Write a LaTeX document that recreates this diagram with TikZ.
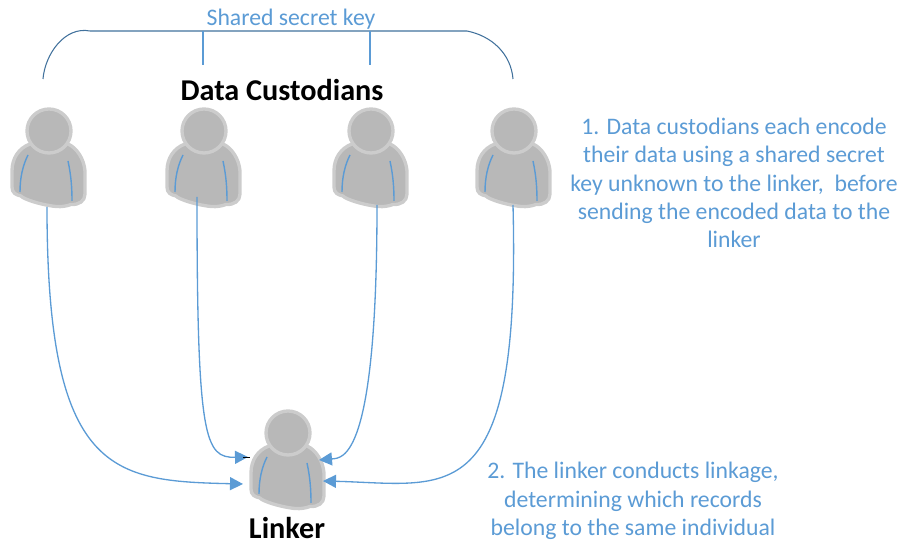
\documentclass[tikz,border=0pt]{standalone}
\usepackage{fontspec}
\setmainfont{Carlito}
\usetikzlibrary{arrows.meta}
\definecolor{skyline}{HTML}{5B9BD5}
\definecolor{darkline}{HTML}{41719C}
\definecolor{personfill}{HTML}{B8B8B8}
\definecolor{personedge}{HTML}{CCCCCC}
\tikzset{
  x=0.02cm,y=-0.02cm,
  link/.style={draw=skyline,line width=0.75pt,-{Stealth[length=7.4pt,width=7.4pt,inset=0pt]}},
  tick/.style={draw=skyline,line width=0.7pt},
  bracket/.style={draw=darkline,line width=0.6pt},
  note/.style={text=skyline,font=\fontsize{13.5}{16.15}\selectfont,align=center,inner sep=0pt},
  title/.style={text=black,font=\fontsize{17.2}{20}\selectfont\bfseries,inner sep=0pt},
  personbody/.style={fill=personfill,draw=personedge,line width=1.9pt,line join=round},
  personarm/.style={draw=skyline,line width=0.8pt},
  person/.pic={
    \path[personbody] (-19,13) .. controls (-30,17) and (-37,27) .. (-37,40)
      -- (-37,56) .. controls (-37,62) and (-33,64) .. (-28,65)
      .. controls (-26,68) and (-8,74) .. (7,75.5)
      .. controls (13,76) and (18,75) .. (22,73.5)
      .. controls (30,74) and (36,70) .. (36,63)
      -- (36,40) .. controls (35,28) and (28,17) .. (19,13) -- cycle;
    \path[personbody] (0,0) circle (22);
    \path[personarm] (-21,24) .. controls (-26,34) and (-29,46) .. (-29,61);
    \path[personarm] (19,30) .. controls (22,44) and (23,56) .. (23,70);
  }
}
\begin{document}
\begin{tikzpicture}
\useasboundingbox (0,0) rectangle (900,543);
\pic at (49,131) {person};
\pic at (204,131) {person};
\pic at (371,131) {person};
\pic at (514,131) {person};
\pic at (288,433) {person};

\coordinate (c1) at (47,207);
\coordinate (c2) at (197,197);
\coordinate (c3) at (377,205);
\coordinate (c4) at (513,205);
\coordinate (l1) at (243,484);
\coordinate (l2) at (248,457);
\coordinate (l3) at (319,460);
\coordinate (l4) at (323,481);
\draw[link] (c1) .. controls +(0,268) and +(-130,-3) .. (l1);
\draw[link] (c2) .. controls +(0,243) and +(-43,1) .. (l2);
\draw[link] (c3) .. controls +(0,255) and +(24,-2) .. (l3);
\draw[link] (c4) .. controls +(8,310) and +(125,3) .. (l4);
\coordinate (markstart) at (243,457);
\coordinate (markend) at (250,457);
\draw[black,line width=0.5pt] (markstart) -- (markend);

\coordinate (b1) at (43,79);
\coordinate (b2) at (90,31);
\coordinate (b3) at (467,31);
\coordinate (b4) at (513,79);
\coordinate (t1) at (203,31);
\coordinate (t1e) at (203,65);
\coordinate (t2) at (370,31);
\coordinate (t2e) at (370,65);
\draw[bracket] (b1) .. controls +(2,-25) and +(-25,-5) .. (b2) -- (b3) .. controls +(25,5) and +(-2,-25) .. (b4);
\draw[tick] (t1) -- (t1e);
\draw[tick] (t2) -- (t2e);

\node[note] (keylabel) at (291,19) {Shared secret key};
\node[title] (custodians) at (282,90) {Data Custodians};
\node[title] (linker) at (287,528) {Linker};
\node[note] (stepone) at (734,183) {1. Data custodians each encode\\their data using a shared secret\\key unknown to the linker,~ before\\sending the encoded data to the\\linker};
\node[note] (steptwo) at (633,501) {2. The linker conducts linkage,\\determining which records\\belong to the same individual};
\end{tikzpicture}
\end{document}
